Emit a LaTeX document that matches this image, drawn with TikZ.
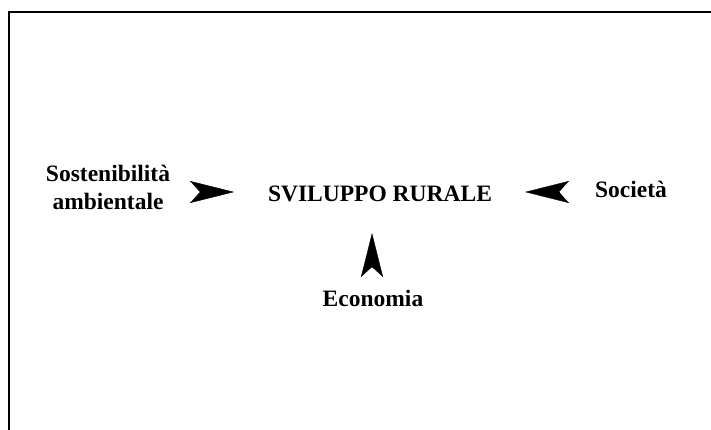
\documentclass[tikz,border=0pt]{standalone}
\usepackage{fontspec}
\setmainfont{Liberation Serif}
\usetikzlibrary{arrows.meta,positioning}
\tikzset{
  lbl/.style={font=\bfseries\fontsize{23.5}{28}\selectfont, inner sep=0pt, anchor=base, align=center},
  dart/.style={line width=0.4pt, -{Stealth[length=44pt,width=22pt,inset=10pt]}},
}

\begin{document}
\begin{tikzpicture}[x=1pt,y=-1pt]
\useasboundingbox (0,0) rectangle (711,430);
%frame (cut off at the right and bottom)
\draw[line width=2.4pt] (9,430) -- (9,12) -- (711,12);

\begin{scope}
\draw(380,202) node[lbl] (svil) {SVILUPPO RURALE};
\draw(108,210) node[lbl] (sost) {Sostenibilità\\ambientale};
\draw(631,197) node[lbl] (soc) {Società};
\draw(373,306) node[lbl] (eco) {Economia};
\end{scope}

\begin{scope}
%tails sit on the notch of each dart
\coordinate (lt) at (200,192);
\coordinate (lh) at (234,192);
\coordinate (rt) at (559,192);
\coordinate (rh) at (525,192);
\coordinate (ut) at (372,267);
\coordinate (uh) at (372,233);
\draw[dart] (lt) -- (lh);
\draw[dart] (rt) -- (rh);
\draw[dart] (ut) -- (uh);
\end{scope}
\end{tikzpicture}
\end{document}
